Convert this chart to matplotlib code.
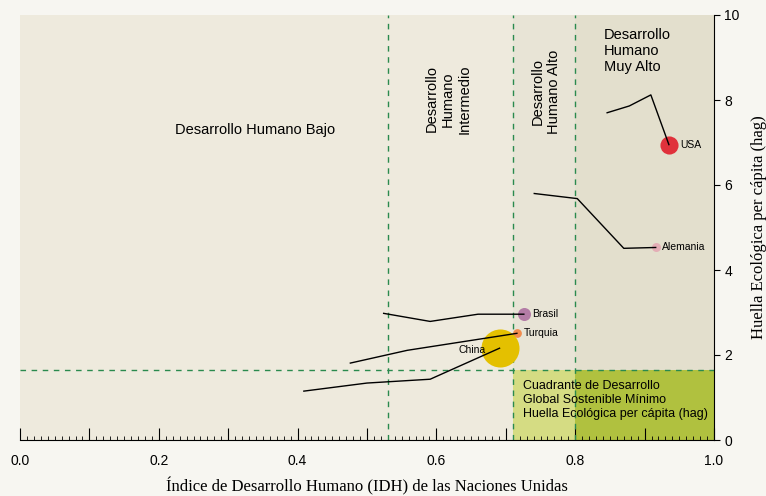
import matplotlib.pyplot as plt
from matplotlib.ticker import MultipleLocator, FixedLocator

plt.rcParams['font.family'] = ['Liberation Sans', 'DejaVu Sans']

# Trayectorias IDH vs huella ecologica (el ultimo punto lleva la burbuja)
usa_idh = [0.846, 0.878, 0.909, 0.935]
usa_hag = [7.70, 7.86, 8.12, 6.95]
ale_idh = [0.741, 0.803, 0.870, 0.916]
ale_hag = [5.80, 5.68, 4.51, 4.53]
bra_idh = [0.524, 0.591, 0.660, 0.726]
bra_hag = [2.98, 2.79, 2.96, 2.96]
tur_idh = [0.476, 0.558, 0.716]
tur_hag = [1.81, 2.11, 2.51]
chi_idh = [0.409, 0.500, 0.591, 0.691]
chi_hag = [1.15, 1.34, 1.43, 2.16]

paises = ['USA', 'Alemania', 'Brasil', 'Turquia', 'China']
colores = ['#e0313b', '#e4aeb6', '#b37ca6', '#f28c4e', '#e4c000']
tamanos = [170, 42, 88, 40, 750]

# Umbrales de IDH y huella minima sostenible
idh_cortes = [0.53, 0.71, 0.8]
hag_min = 1.65

fig = plt.figure(figsize=(7.66, 4.96), dpi=100)
fig.patch.set_facecolor('#f7f6f1')
ax = fig.add_axes([20/766, 1 - 440/496, 694/766, 425/496])
ax.set_xlim(0, 1)
ax.set_ylim(0, 10)

# fondos por zona
ax.axvspan(0, 0.71, color='#eeeadd', zorder=0, lw=0)
ax.axvspan(0.71, 0.8, color='#e8e4d6', zorder=0, lw=0)
ax.axvspan(0.8, 1.0, color='#e3dfcd', zorder=0, lw=0)
ax.fill_between([0.71, 0.8], 0, hag_min, color='#d5dc83', zorder=1, lw=0)
ax.fill_between([0.8, 1.0], 0, hag_min, color='#b0c13f', zorder=1, lw=0)

for c in idh_cortes:
    ax.axvline(c, color='#2a8a4e', ls=(0, (4, 4)), lw=1, zorder=2)
ax.axhline(hag_min, color='#2a8a4e', ls=(0, (4, 4)), lw=1, zorder=2)

series = [(usa_idh, usa_hag), (ale_idh, ale_hag), (bra_idh, bra_hag),
          (tur_idh, tur_hag), (chi_idh, chi_hag)]
for (xs, ys), nombre, col, s in zip(series, paises, colores, tamanos):
    ax.scatter(xs[-1], ys[-1], s=s, color=col, zorder=3, lw=0)
    ax.plot(xs, ys, color='black', lw=1, zorder=4)
    if nombre == 'China':
        ax.annotate(nombre, (xs[-1], ys[-1]), xytext=(-10, -1), textcoords='offset points',
                    ha='right', va='center', fontsize=7.5, zorder=5)
    else:
        off = 1.5 + (s ** 0.5) / 2
        ax.annotate(nombre, (xs[-1], ys[-1]), xytext=(off, 0), textcoords='offset points',
                    ha='left', va='center', fontsize=7.5, zorder=5)

ax.text(0.338, 7.30, 'Desarrollo Humano Bajo', ha='center', va='center', fontsize=10.5)
ax.text(0.617, 7.21, 'Desarrollo\nHumano\nIntermedio', rotation=90, ha='center', va='bottom',
        fontsize=10.5, linespacing=1.25)
ax.text(0.758, 7.21, 'Desarrollo\nHumano Alto', rotation=90, ha='center', va='bottom',
        fontsize=10.5, linespacing=1.25)
ax.text(0.841, 9.7, 'Desarrollo\nHumano\nMuy Alto', ha='left', va='top', fontsize=10.5,
        linespacing=1.2)
ax.text(0.725, 0.94, 'Cuadrante de Desarrollo\nGlobal Sostenible Mínimo\nHuella Ecológica per cápita (hag)',
        ha='left', va='center', fontsize=9, linespacing=1.2, zorder=5)

for sp in ['top', 'left']:
    ax.spines[sp].set_visible(False)
ax.yaxis.tick_right()
ax.yaxis.set_label_position('right')
ax.set_yticks([0, 2, 4, 6, 8, 10])
ax.tick_params(axis='y', direction='out', length=4, labelsize=10)
ax.xaxis.set_major_locator(FixedLocator([i / 10 for i in range(11)]))
ax.xaxis.set_minor_locator(MultipleLocator(0.01))
ax.set_xticklabels(['0.0', '', '0.2', '', '0.4', '', '0.6', '', '0.8', '', '1.0'])
ax.tick_params(axis='x', which='major', direction='in', length=9, labelsize=10, pad=10)
ax.tick_params(axis='x', which='minor', direction='in', length=3)
for lab in ax.get_xticklabels() + ax.get_yticklabels():
    lab.set_family(['Liberation Sans Narrow', 'Liberation Sans'])

ax.set_xlabel('Índice de Desarrollo Humano (IDH) de las Naciones Unidas',
              family='Liberation Serif', fontsize=12, labelpad=7)
ax.set_ylabel('Huella Ecológica per cápita (hag)', family='Liberation Serif',
              fontsize=12, labelpad=8)

fig.savefig('out.png', dpi=100, facecolor=fig.get_facecolor())
